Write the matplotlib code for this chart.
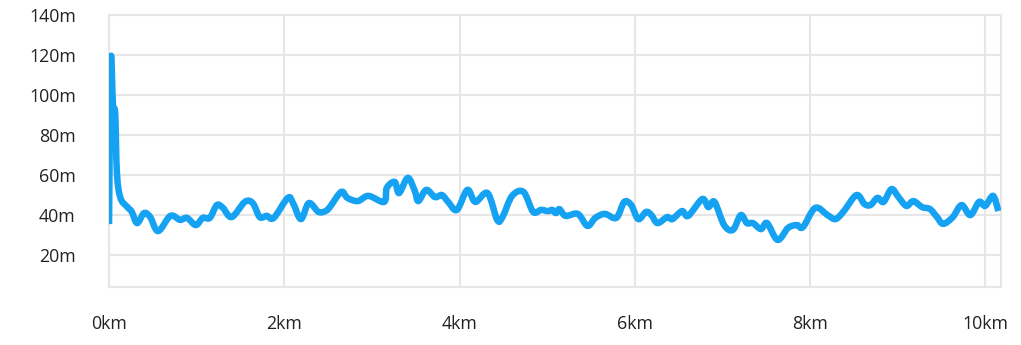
"""
Elevation profile along a 10 km route
"""

import matplotlib
matplotlib.use('Agg')
import matplotlib.pyplot as plt
import numpy as np
from matplotlib.path import Path
from matplotlib.patches import PathPatch
from matplotlib.ticker import FuncFormatter

# distance along route (km) and elevation (m)
distance_km = [
    0.00, 0.02, 0.045, 0.07, 0.09, 0.13, 0.21, 0.26, 0.32, 0.40, 0.47,
    0.56, 0.70, 0.81, 0.89, 0.99, 1.07, 1.15, 1.23, 1.30, 1.40,
    1.55, 1.64, 1.72, 1.80, 1.88, 2.04, 2.10, 2.19, 2.28, 2.39,
    2.47, 2.52, 2.65, 2.72, 2.84, 2.96, 3.14, 3.17, 3.26, 3.31,
    3.41, 3.49, 3.53, 3.62, 3.72, 3.80, 3.87, 3.97, 4.09, 4.18,
    4.32, 4.43, 4.49, 4.60, 4.73, 4.84, 4.93, 5.01, 5.06, 5.10,
    5.14, 5.21, 5.35, 5.46, 5.55, 5.66, 5.79, 5.88, 5.96, 6.04,
    6.13, 6.19, 6.26, 6.37, 6.43, 6.54, 6.61, 6.77, 6.84, 6.91,
    7.02, 7.12, 7.21, 7.28, 7.35, 7.44, 7.51, 7.63, 7.75, 7.85,
    7.92, 8.06, 8.20, 8.29, 8.38, 8.53, 8.62, 8.69, 8.77, 8.84,
    8.93, 9.01, 9.10, 9.18, 9.28, 9.37, 9.45, 9.52, 9.63, 9.73,
    9.83, 9.93, 10.00, 10.09, 10.15,
]
elevation_m = [
    35.7, 117.8, 95.0, 91.0, 61.2, 48.8, 44.2, 41.8, 36.2, 41.2, 39.2,
    32.2, 39.8, 37.8, 38.8, 35.2, 38.8, 38.8, 45.2, 43.8, 39.2,
    46.8, 46.2, 39.2, 39.8, 38.8, 48.8, 46.2, 38.2, 46.2, 41.8,
    42.2, 44.2, 51.8, 48.8, 47.2, 49.8, 46.8, 53.8, 56.8, 51.2,
    58.8, 52.2, 47.2, 52.8, 49.2, 50.2, 46.8, 42.8, 52.8, 46.8,
    51.2, 37.8, 39.2, 49.8, 51.8, 41.8, 42.8, 42.2, 42.8, 41.2,
    43.2, 39.8, 40.8, 34.8, 38.8, 40.8, 38.8, 46.8, 45.2, 38.2,
    41.8, 40.2, 36.2, 39.2, 38.2, 42.2, 39.8, 48.2, 44.2, 46.8,
    35.2, 32.8, 40.2, 36.2, 36.2, 33.2, 36.2, 27.8, 33.8, 35.2,
    34.2, 43.8, 40.2, 38.2, 41.8, 50.2, 45.8, 45.2, 48.8, 46.8,
    53.2, 49.2, 44.8, 47.2, 44.2, 43.2, 39.2, 35.8, 39.2, 45.2,
    40.2, 46.8, 44.8, 49.8, 42.2,
]

x_ticks = [0, 2, 4, 6, 8, 10]
y_ticks = [20, 40, 60, 80, 100, 120, 140]

LINE_COLOR = '#16a2f2'
GRID_COLOR = '#e6e6e6'
TEXT_COLOR = '#222222'


def smooth_path(xs, ys, tension=1 / 6):
    """Cubic bezier path through every point (catmull-rom style curve)"""
    pts = np.column_stack([xs, ys])
    n = len(pts)
    verts = [pts[0]]
    codes = [Path.MOVETO]
    for i in range(n - 1):
        p_prev = pts[max(i - 1, 0)]
        p0 = pts[i]
        p1 = pts[i + 1]
        p_next = pts[min(i + 2, n - 1)]
        c1 = p0 + (p1 - p_prev) * tension
        c2 = p1 - (p_next - p0) * tension
        verts += [c1, c2, p1]
        codes += [Path.CURVE4] * 3
    return Path(verts, codes)


plt.rcParams['font.family'] = ['Open Sans', 'DejaVu Sans']

fig = plt.figure(figsize=(10.21, 3.45), dpi=100)
ax = fig.add_axes([0.1068, 0.1667, 0.8736, 0.7884])

line = PathPatch(smooth_path(distance_km, elevation_m), fill=False,
                 edgecolor=LINE_COLOR, linewidth=4.7,
                 joinstyle='round', capstyle='butt', zorder=3)
ax.add_patch(line)

ax.set_xlim(0, 10.18)
ax.set_ylim(4, 140)
ax.set_xticks(x_ticks)
ax.set_yticks(y_ticks)
ax.xaxis.set_major_formatter(FuncFormatter(lambda v, p: f'{v:g}km'))
ax.yaxis.set_major_formatter(FuncFormatter(lambda v, p: f'{v:g}m'))

ax.grid(True, color=GRID_COLOR, linewidth=1.5, zorder=0)
ax.set_axisbelow(True)
for spine in ax.spines.values():
    spine.set_color(GRID_COLOR)
    spine.set_linewidth(1.5)

ax.tick_params(axis='both', length=0, labelsize=12.8, colors=TEXT_COLOR)
ax.tick_params(axis='y', pad=24)
ax.tick_params(axis='x', pad=20)

fig.savefig('out.png', dpi=100, facecolor='white')
